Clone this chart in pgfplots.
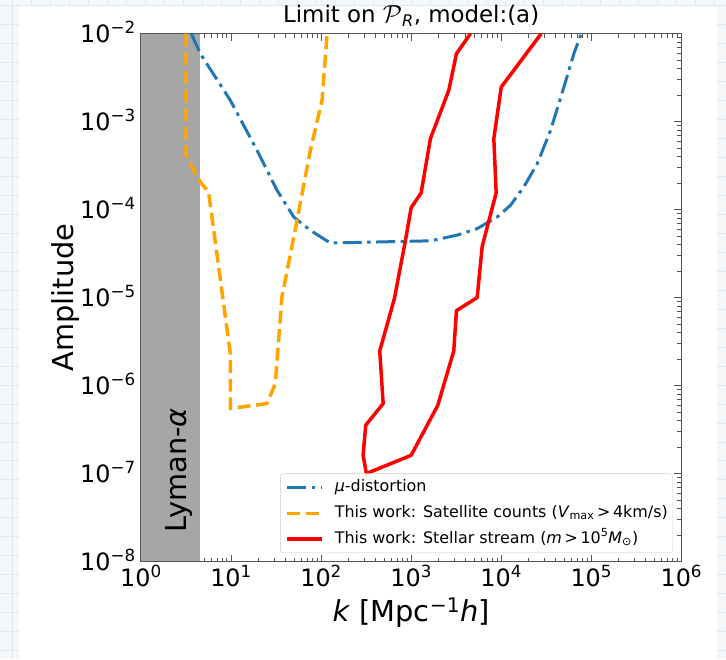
\documentclass[border=0pt]{standalone}
\usepackage{pgfplots}
\pgfplotsset{compat=1.18}
\usepackage{fontspec}
\setmainfont{DejaVu Sans}
\definecolor{mplblue}{HTML}{1F77B4}
\definecolor{mplorange}{HTML}{FFA500}
\definecolor{lyman}{RGB}{166,166,166}
\definecolor{bgc}{HTML}{F5F7F9}
\definecolor{gridc}{HTML}{DCE9F4}
\definecolor{framec}{HTML}{555555}

\begin{document}
\begin{tikzpicture}
% page background (graph paper) and white figure panel
\fill[bgc] (0,0) rectangle (726bp,-659bp);
\foreach \i in {0,...,37} {\draw[gridc, line width=0.8bp] ({12bp+19bp*\i},0) -- ({12bp+19bp*\i},-659bp);}
\foreach \i in {0,...,34} {\draw[gridc, line width=0.8bp] (0,{-5bp-19bp*\i}) -- (726bp,{-5bp-19bp*\i});}
\fill[white] (19bp,-6bp) rectangle (717bp,-659bp);

\begin{axis}[
  at={(140.7bp,-561.7bp)}, anchor=south west,
  scale only axis, width=541bp, height=528.4bp,
  xmode=log, ymode=log,
  xmin=1, xmax=1e6, ymin=1e-8, ymax=1e-2,
  axis line style={framec, line width=1bp},
  every tick/.style={framec, line width=0.8bp},
  major tick length=7bp, minor tick length=4bp,
  xtick={1,10,100,1000,10000,100000,1000000},
  xticklabels={10\textsuperscript{0},10\textsuperscript{1},10\textsuperscript{2},10\textsuperscript{3},10\textsuperscript{4},10\textsuperscript{5},10\textsuperscript{6}},
  ytick={1e-8,1e-7,1e-6,1e-5,1e-4,1e-3,1e-2},
  yticklabels={10\textsuperscript{−8},10\textsuperscript{−7},10\textsuperscript{−6},10\textsuperscript{−5},10\textsuperscript{−4},10\textsuperscript{−3},10\textsuperscript{−2}},
  ticklabel style={font=\fontsize{24}{28}\selectfont, inner sep=0pt},
  xticklabel style={anchor=base, yshift=-25bp},
  yticklabel style={anchor=base east, xshift=-5bp, yshift=-8.7bp},
  title={Limit on $\mathcal{P}$\textsubscript{\textit{R}}, model:(a)},
  title style={at={(0.5,1)}, anchor=base, yshift=5bp, font=\fontsize{23}{27}\selectfont, inner sep=0pt},
  xlabel={\textit{k} [Mpc\textsuperscript{−1}\textit{h}]},
  xlabel style={at={(axis description cs:0.5,-0.1136)}, anchor=base, font=\fontsize{29}{34}\selectfont, inner sep=0pt},
  ylabel={Amplitude},
  ylabel style={at={(axis description cs:-0.1246,0.5)}, anchor=base, font=\fontsize{29}{34}\selectfont, inner sep=0pt},
  legend style={at={(0.9845,0.0159)}, anchor=south east, draw=black!20, rounded corners=3bp,
    fill=white, fill opacity=0.8, text opacity=1, font=\fontsize{16}{19}\selectfont,
    inner xsep=5bp, inner ysep=5.85bp, row sep=9.8bp,
    nodes={inner sep=0pt, text height=12bp, text depth=4bp},
    /tikz/every odd column/.style={column sep=11bp}},
  legend cell align=left,
  legend image code/.code={\draw[#1] (0bp,0bp) -- (35bp,0bp);},
  line join=round,
]
% Lyman-alpha excluded region
\addplot[fill=lyman, draw=none, forget plot] coordinates {(1,1e-8) (4.5,1e-8) (4.5,1e-2) (1,1e-2)} -- cycle;

% mu-distortion
\addplot[mplblue, line width=3bp, dash pattern=on 19bp off 5.5bp on 3.5bp off 5.5bp] coordinates {
(3.62,1e-2) (4.56,5.93e-3) (9.82,1.75e-3) (19.45,4.72e-4) (32.4,1.66e-4) (49.7,8.24e-5)
(76.0,5.82e-5) (126.8,4.17e-5) (1656,4.42e-5) (3243,5.13e-5) (5408,6.08e-5) (9036,8.24e-5)
(12680,1.12e-4) (17820,1.81e-4) (25120,3.33e-4) (35320,7.96e-4) (49660,2.47e-3) (64120,5.93e-3)
(77450,1e-2)};
\addlegendentry{\textit{μ}-distortion}

% satellite counts
\addplot[mplorange, line width=3.5bp, dash pattern=on 13bp off 5.6bp] coordinates {
(3.18,1e-2) (3.18,4.14e-4) (3.53,3.33e-4) (4.56,2.06e-4) (5.64,1.58e-4) (9.82,2.31e-6)
(9.82,5.48e-7) (25.1,6.24e-7) (31.0,1.05e-6) (36.8,1.02e-5) (54.1,7.55e-5) (76.0,4.72e-4)
(102.6,1.75e-3) (116.7,1e-2)};
\addlegendentry{This work: Satellite counts (\textit{V}\textsubscript{max}\,>\,4km/s)}

% stellar stream
\addplot[red, line width=3.5bp] coordinates {
(4560,1e-2) (3184,5.93e-3) (2618,2.27e-3) (1637,6.41e-4) (1291,1.55e-4) (1000,1.05e-4)
(865,4.48e-5) (652,9.75e-6) (448,2.47e-6) (489,6.24e-7) (313,3.54e-7) (293,1.61e-7)
(318,1.0e-7) (1000,1.61e-7) (1977,5.97e-7) (2972,2.47e-6) (3184,7.11e-6) (5408,1.0e-5)
(6152,3.83e-5) (8790,1.55e-4) (8279,6.41e-4) (10000,2.47e-3) (27800,1e-2)};
\addlegendentry{This work: Stellar stream (\textit{m}\,>\,10\textsuperscript{5}\textit{M}\textsubscript{⊙})}

\node[rotate=90, anchor=base, font=\fontsize{29}{34}\selectfont, inner sep=0pt] at (axis cs:3.19,1.09e-7) {Lyman-\textit{α}};
\end{axis}
\end{tikzpicture}
\end{document}
